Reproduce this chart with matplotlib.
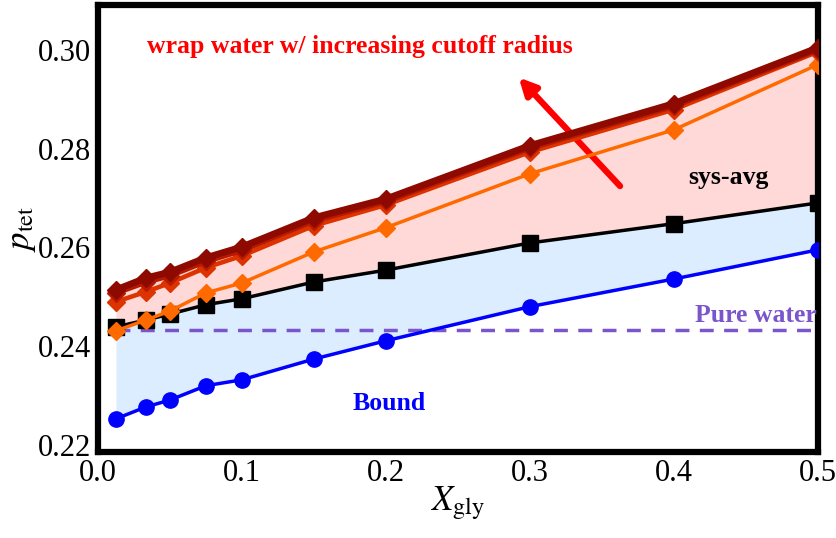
import numpy as np
import matplotlib
matplotlib.use("Agg")
import matplotlib.pyplot as plt

plt.rcParams["font.family"] = ["Liberation Serif", "DejaVu Serif"]
plt.rcParams["mathtext.fontset"] = "stix"

# ---- data
x_gly = [0.0125, 0.0333, 0.05, 0.075, 0.1, 0.15, 0.2, 0.3, 0.4, 0.5]
bound = [0.2253, 0.2277, 0.2291, 0.2320, 0.2332, 0.2374, 0.2411, 0.2480, 0.2536, 0.2595]
sys_avg = [0.2439, 0.2453, 0.2465, 0.2484, 0.2496, 0.2530, 0.2554, 0.2609, 0.2648, 0.2690]
wrap_1 = [0.2431, 0.2453, 0.2471, 0.2508, 0.2528, 0.2591, 0.2640, 0.2749, 0.2838, 0.2970]
wrap_2 = [0.2490, 0.2510, 0.2528, 0.2559, 0.2583, 0.2644, 0.2686, 0.2793, 0.2879, 0.2996]
wrap_3 = [0.2508, 0.2530, 0.2543, 0.2572, 0.2594, 0.2654, 0.2693, 0.2801, 0.2886, 0.3000]
wrap_4 = [0.2514, 0.2538, 0.2550, 0.2579, 0.2601, 0.2660, 0.2698, 0.2806, 0.2891, 0.3004]
pure_water = 0.2432

wrap_sets = [wrap_1, wrap_2, wrap_3, wrap_4]
wrap_colors = ["#ff6a00", "#dd3300", "#b81a00", "#8e0a00"]

fig = plt.figure(figsize=(8.37, 5.38), dpi=100)
ax = fig.add_axes([0.117, 0.160, 0.860, 0.831])

x = np.array(x_gly)
ax.fill_between(x, bound, sys_avg, color="#dcedff", lw=0, zorder=0)
ax.fill_between(x, sys_avg, wrap_4, color="#ffd8d8", lw=0, zorder=0)

ax.plot([x_gly[0], 0.5], [pure_water, pure_water], ls=(0, (4, 3)),
        color="#7a55cc", lw=2.5, zorder=1)

ax.plot(x, bound, "-o", color="#0000ff", lw=2.5, ms=11, zorder=3)
ax.plot(x, sys_avg, "-s", color="black", lw=2.5, ms=12, zorder=3)
for i, (vals, c) in enumerate(zip(wrap_sets, wrap_colors)):
    ax.plot(x, vals, "-D", color=c, lw=2.5 + i * 0.8, ms=9, zorder=4 + i)

txt = dict(fontsize=18.5, fontweight="bold", ha="center", va="center")
ax.text(0.182, 0.3006, "wrap water w/ increasing cutoff radius", color="red", **txt)
ax.annotate("", xy=(0.291, 0.2948), xytext=(0.364, 0.2720),
            arrowprops=dict(arrowstyle="-|>,head_length=1.0,head_width=0.5",
                            color="red", lw=4.5))
ax.text(0.438, 0.2741, "sys-avg", color="black", **txt)
ax.text(0.457, 0.2462, "Pure water", color="#7a55cc", **txt)
ax.text(0.202, 0.2285, "Bound", color="#0000ff", **txt)

ax.set_xlim(0, 0.5)
ax.set_ylim(0.2186, 0.3091)
ax.set_xticks([0.0, 0.1, 0.2, 0.3, 0.4, 0.5])
ax.set_xticklabels(["0.0", "0.1", "0.2", "0.3", "0.4", "0.5"])
ax.set_yticks([0.22, 0.24, 0.26, 0.28, 0.30])
ax.set_yticklabels(["0.22", "0.24", "0.26", "0.28", "0.30"])
ax.tick_params(labelsize=22, length=0, pad=5)
for s in ax.spines.values():
    s.set_linewidth(4.5)
ax.set_xlabel(r"$X_{\rm gly}$", fontsize=25, labelpad=-2)
ax.set_ylabel(r"$p_{\rm tet}$", fontsize=25, labelpad=0)

fig.savefig("out.png", dpi=100)
